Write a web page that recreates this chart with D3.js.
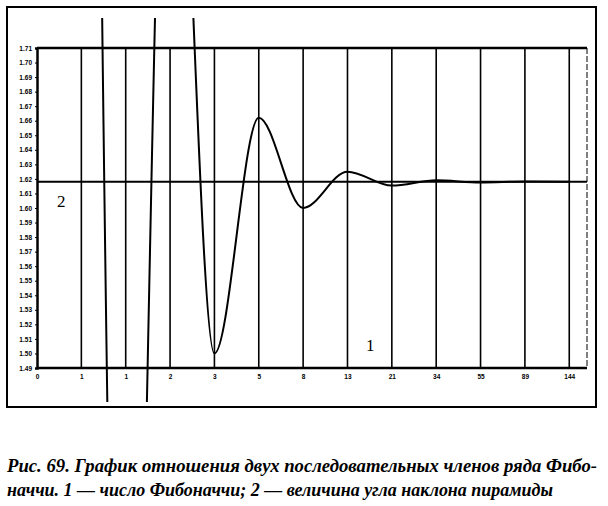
<!DOCTYPE html>
<html><head><meta charset="utf-8">
<script src="https://cdn.jsdelivr.net/npm/d3@7"></script>
<style>body{margin:0;background:#fff}svg{display:block}</style>
</head><body><svg id="c" width="608" height="506"></svg>
<script>
// ---- data ----
const categories = ["0","1","1","2","3","5","8","13","21","34","55","89","144"];
const ratioValues = [null, 3.1, 1.0, 2.0, 1.5, 1.662, 1.6, 1.625, 1.6154, 1.6190, 1.6176, 1.6182, 1.6180];
const pyramidValue = 1.618;
const yTickValues = [1.49,1.50,1.51,1.52,1.53,1.54,1.55,1.56,1.57,1.58,1.59,1.60,1.61,1.62,1.63,1.64,1.65,1.66,1.67,1.68,1.69,1.70,1.71];
const captionLines = [
  "Рис. 69. График отношения двух последовательных членов ряда Фибо-",
  "наччи. 1 — число Фибоначчи; 2 — величина угла наклона пирамиды"
];
const seriesLabels = ["1", "2"];

// ---- layout ----
const svg = d3.select("#c");
const L = 37, R = 587, T = 48, B = 368;
const x = d3.scaleLinear().domain([0, 12.4]).range([L, R]);
const y = d3.scaleLinear().domain([1.49, 1.71]).range([B, T]);

// outer frame
svg.append("rect").attr("x", 7).attr("y", 7).attr("width", 589).attr("height", 400)
  .attr("fill", "none").attr("stroke", "#000").attr("stroke-width", 2);

// vertical gridlines
svg.append("g").selectAll("line").data(categories.slice(1)).join("line")
  .attr("x1", (d, i) => x(i + 1)).attr("x2", (d, i) => x(i + 1))
  .attr("y1", T).attr("y2", B)
  .attr("stroke", "#000").attr("stroke-width", 1.6);

// plot border: right thin
svg.append("line").attr("x1", R).attr("x2", R).attr("y1", T).attr("y2", B)
  .attr("stroke", "#000").attr("stroke-width", 1).attr("stroke-dasharray", "6,2");
// top border
svg.append("line").attr("x1", L).attr("x2", R).attr("y1", T).attr("y2", T)
  .attr("stroke", "#000").attr("stroke-width", 2.5);

// y axis
const yAxis = d3.axisLeft(y).tickValues(yTickValues).tickFormat(d3.format(".2f")).tickSize(2).tickPadding(3);
const gy = svg.append("g").attr("transform", `translate(${L},0)`).call(yAxis);
gy.select(".domain").attr("stroke-width", 2.5);
gy.selectAll("text").attr("font-family", "Liberation Sans, Arial, sans-serif")
  .attr("font-size", 6.5).attr("font-weight", "bold");

// x axis
const xAxis = d3.axisBottom(x).tickValues(d3.range(categories.length))
  .tickFormat(i => categories[i]).tickSize(0).tickPadding(6);
const gx = svg.append("g").attr("transform", `translate(0,${B})`).call(xAxis);
gx.select(".domain").attr("stroke-width", 2.5).attr("d", `M${L},0H${R}`);
gx.selectAll("text").attr("font-family", "Liberation Sans, Arial, sans-serif")
  .attr("font-size", 6.5).attr("font-weight", "bold");

// horizontal line (2)
svg.append("line").attr("x1", L).attr("x2", R)
  .attr("y1", y(pyramidValue)).attr("y2", y(pyramidValue))
  .attr("stroke", "#000").attr("stroke-width", 2);

// clip for curve
svg.append("clipPath").attr("id", "clip").append("rect")
  .attr("x", 8).attr("y", 18).attr("width", 587).attr("height", 384);

const pts = ratioValues.map((v, i) => [i, v]).filter(d => d[1] != null);
const line = d3.line().x(d => x(d[0])).y(d => y(d[1])).curve(d3.curveMonotoneX);
svg.append("path").attr("d", line(pts)).attr("clip-path", "url(#clip)")
  .attr("fill", "none").attr("stroke", "#000").attr("stroke-width", 2);

// series labels
svg.append("text").attr("x", 366).attr("y", 351).text(seriesLabels[0])
  .attr("font-family", "Liberation Serif, Times New Roman, serif").attr("font-size", 17);
svg.append("text").attr("x", 57).attr("y", 207).text(seriesLabels[1])
  .attr("font-family", "Liberation Serif, Times New Roman, serif").attr("font-size", 17);

// caption
svg.append("g").selectAll("text").data(captionLines).join("text")
  .attr("x", 7).attr("y", (d, i) => 472 + i * 24)
  .attr("font-family", "Liberation Serif, Times New Roman, serif")
  .attr("font-style", "italic").attr("font-weight", "bold").attr("font-size", 19)
  .attr("textLength", (d, i) => i === 0 ? 590 : 546).attr("lengthAdjust", "spacingAndGlyphs")
  .text(d => d);
</script></body></html>
